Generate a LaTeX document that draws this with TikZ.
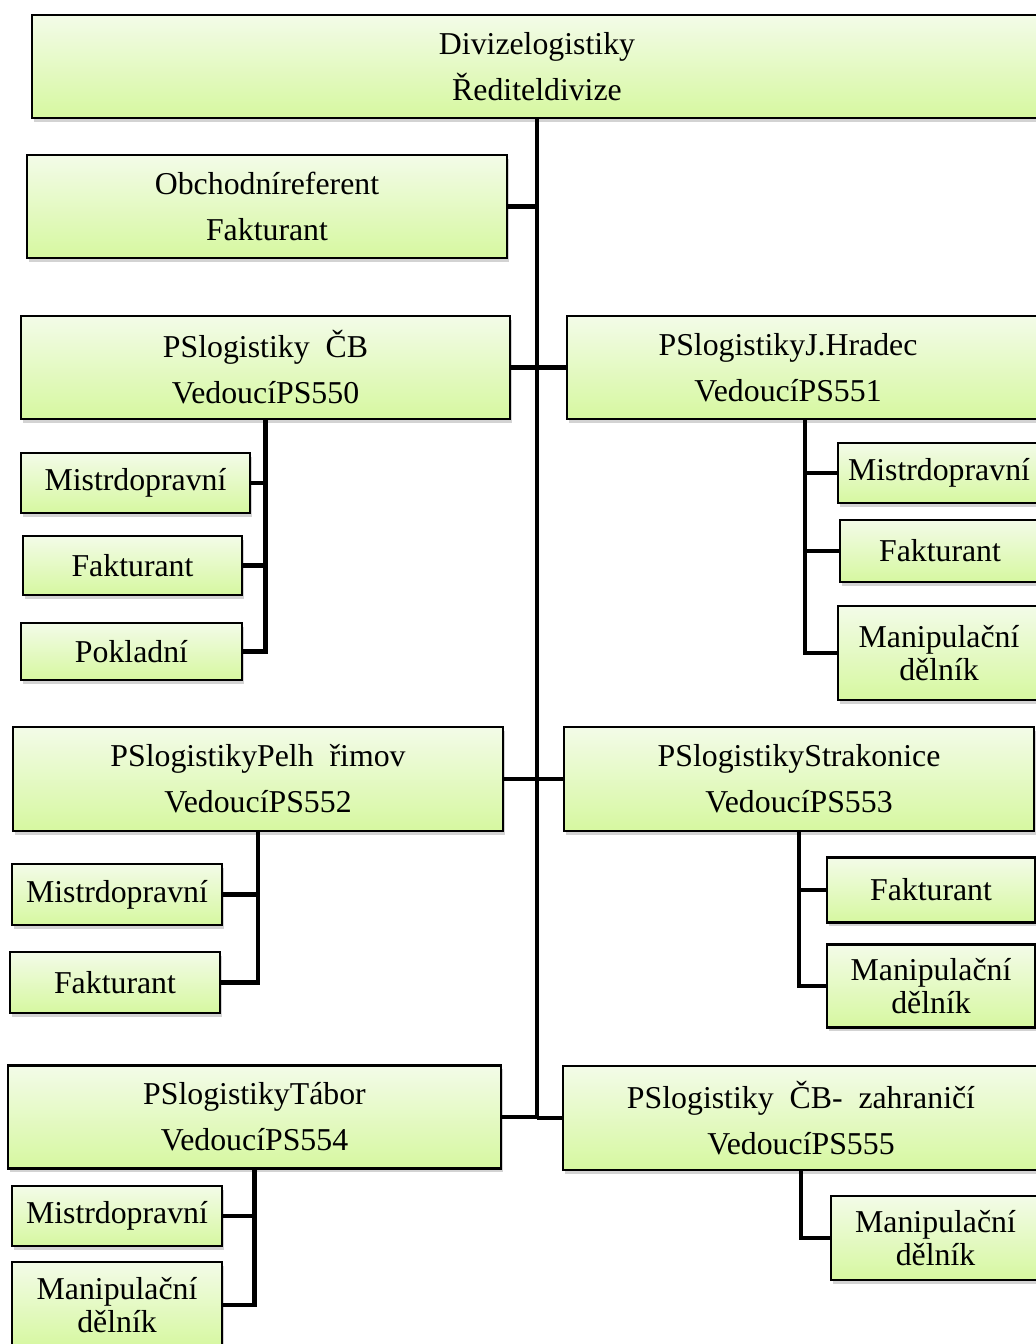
\documentclass[tikz,border=0pt]{standalone}
\usepackage{fontspec}
\setmainfont{Liberation Serif}
\usetikzlibrary{shadows}

\definecolor{boxtop}{RGB}{243,251,232}
\definecolor{boxbot}{RGB}{214,248,160}

\begin{document}
\begin{tikzpicture}[
  x=1pt, y=-1pt,
  box/.style={draw, line width=2.5pt, top color=boxtop, bottom color=boxbot,
              drop shadow={shadow xshift=1.5pt, shadow yshift=-3.5pt, opacity=0.35},
              align=center, inner sep=0pt, font=\fontsize{31.8}{46}\selectfont},
  unit/.style={box, font=\fontsize{31.8}{33}\selectfont},
  link/.style={line width=4.5pt}
]
\useasboundingbox (0,0) rectangle (1036,1344);
\node[box, minimum width=1010pt, minimum height=103pt] (div) at (537,66.5) {Divizelogistiky\\Řediteldivize};
\node[box, minimum width=480pt, minimum height=103pt] (obch) at (267,206.5) {Obchodníreferent\\Fakturant};
\node[box, minimum width=489pt, minimum height=103pt] (ps550) at (265.5,367.5) {PSlogistiky~~ČB\\VedoucíPS550};
\node[box, minimum width=476pt, minimum height=103pt,
      label={[font=\fontsize{31.8}{46}\selectfont, align=center, xshift=-17pt]center:{PSlogistikyJ.Hradec\\VedoucíPS551}}]
      (ps551) at (805,367.5) {};
\node[unit, minimum width=229pt, minimum height=60pt] (mis550) at (135.5,483) {Mistrdopravní};
\node[unit, minimum width=219pt, minimum height=59pt] (fak550) at (132.5,565.5) {Fakturant};
\node[unit, minimum width=221pt, minimum height=57pt] (pok550) at (131.5,651.5) {Pokladní};
\node[unit, minimum width=202pt, minimum height=60pt] (mis551) at (939,473) {Mistrdopravní};
\node[unit, minimum width=200pt, minimum height=62pt] (fak551) at (940,551) {Fakturant};
\node[unit, minimum width=202pt, minimum height=94pt] (man551) at (939,653) {Manipulační\\dělník};
\node[box, minimum width=490pt, minimum height=104pt] (ps552) at (258,779) {PSlogistikyPelh~~řimov\\VedoucíPS552};
\node[box, minimum width=470pt, minimum height=104pt] (ps553) at (799,779) {PSlogistikyStrakonice\\VedoucíPS553};
\node[unit, minimum width=210pt, minimum height=61pt] (mis552) at (117,894.5) {Mistrdopravní};
\node[unit, minimum width=210pt, minimum height=61pt] (fak552) at (115,982.5) {Fakturant};
\node[unit, minimum width=208pt, minimum height=65pt] (fak553) at (931,890) {Fakturant};
\node[unit, minimum width=208pt, minimum height=83pt] (man553) at (931,986) {Manipulační\\dělník};
\node[box, minimum width=493pt, minimum height=103pt] (ps554) at (254.5,1117) {PSlogistikyTábor\\VedoucíPS554};
\node[box, minimum width=476pt, minimum height=104pt] (ps555) at (801,1118) {PSlogistiky~~ČB-~~zahraničí\\VedoucíPS555};
\node[unit, minimum width=210pt, minimum height=60pt] (mis554) at (117,1216) {Mistrdopravní};
\node[unit, minimum width=210pt, minimum height=86pt] (man554) at (117,1305) {Manipulační\\dělník};
\node[unit, minimum width=209pt, minimum height=84pt] (man555) at (935.5,1238) {Manipulační\\dělník};

\draw[link] (div.south) -- (div.south |- ps554.east);
\draw[link] (obch.east) -- (obch.east -| div.south);
\draw[link] (ps550.east) -- (ps551.west);
\draw[link] (ps552.east) -- (ps553.west);
\draw[link] (ps554.east) -- (ps554.east -| div.south);
\draw[link] (ps555.west) -- (ps555.west -| div.south);
\draw[link] (ps550.south) |- (mis550.east);
\draw[link] (ps550.south) |- (fak550.east);
\draw[link] (ps550.south) |- (pok550.east);
\draw[link] (ps551.south) |- (mis551.west);
\draw[link] (ps551.south) |- (fak551.west);
\draw[link] (ps551.south) |- (man551.west);
\draw[link] (ps552.south) |- (mis552.east);
\draw[link] (ps552.south) |- (fak552.east);
\draw[link] (ps553.south) |- (fak553.west);
\draw[link] (ps553.south) |- (man553.west);
\draw[link] (ps554.south) |- (mis554.east);
\draw[link] (ps554.south) |- (man554.east);
\draw[link] (ps555.south) |- (man555.west);
\end{tikzpicture}
\end{document}
